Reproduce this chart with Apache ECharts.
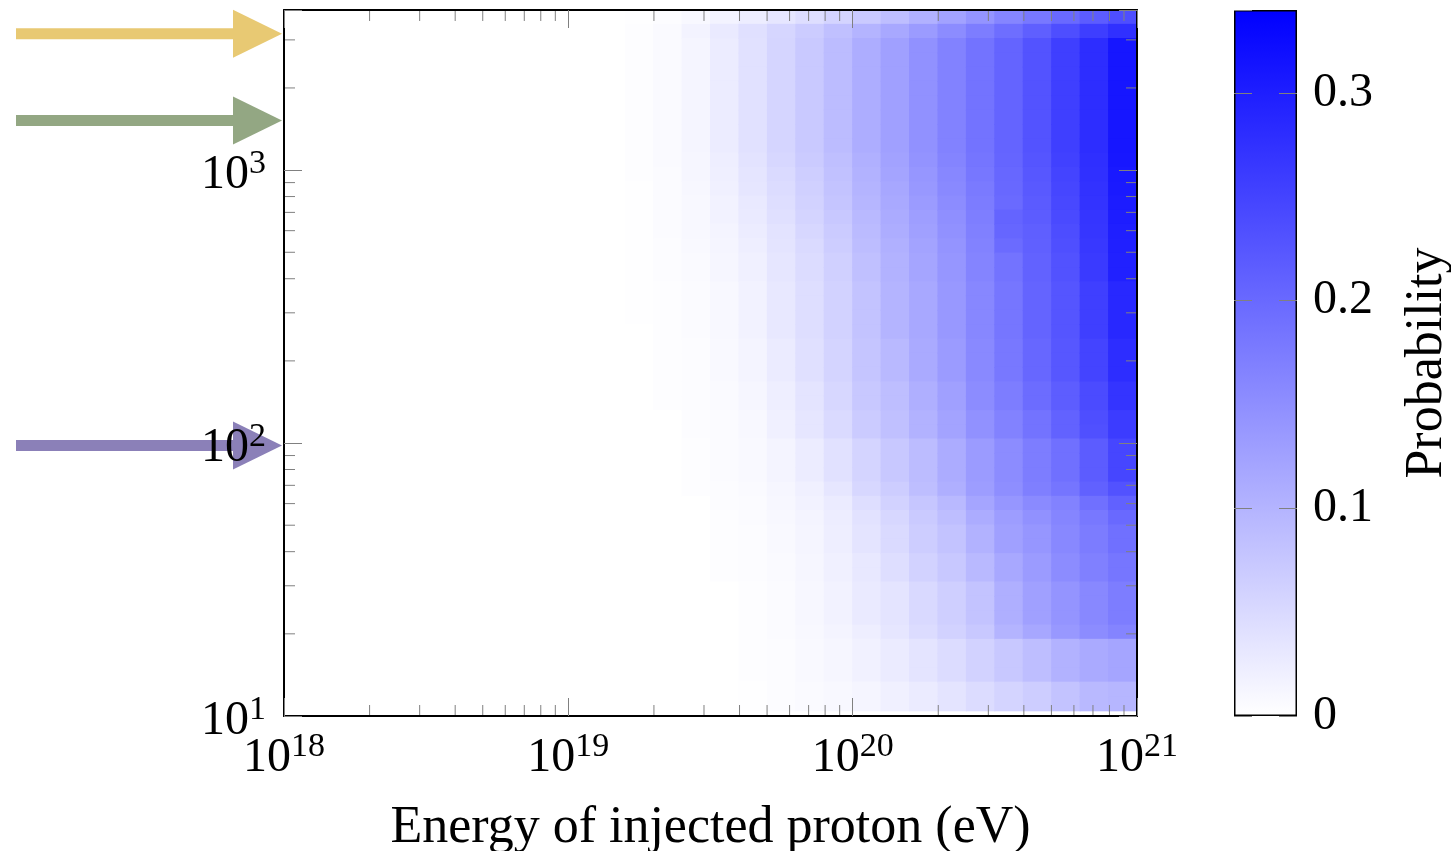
<!DOCTYPE html>
<html>
<head>
<meta charset="utf-8">
<script src="https://cdn.jsdelivr.net/npm/echarts@6/dist/echarts.min.js"></script>
<style>
  html, body { margin: 0; padding: 0; background: #fff; }
  #chart { width: 1451px; height: 851px; }
</style>
</head>
<body>
<div id="chart"></div>
<script>
// column edges, log10(E / eV), 0.1 decade per column
const energyEdges = [19.2, 19.3, 19.4, 19.5, 19.6, 19.7, 19.8, 19.9, 20.0, 20.1,
  20.2, 20.3, 20.4, 20.5, 20.6, 20.7, 20.8, 20.9, 21.0]

// row edges, log10 of the vertical quantity, top row first
const rowEdges = [3.587, 3.534, 3.482, 3.429, 3.377, 3.325, 3.272, 3.220, 3.167, 3.115,
  3.063, 3.010, 2.958, 2.905, 2.853, 2.801, 2.748, 2.696, 2.643, 2.591,
  2.539, 2.486, 2.434, 2.381, 2.329, 2.277, 2.224, 2.172, 2.119, 2.067,
  2.015, 1.962, 1.910, 1.857, 1.805, 1.753, 1.700, 1.648, 1.595, 1.543,
  1.491, 1.438, 1.386, 1.333, 1.281, 1.229, 1.176, 1.124, 1.071, 1.019]

// probability per column (top row first); columns below 10^19.2 are empty
const p192 = [0.001, 0.003, 0.003, 0.003, 0.003, 0.003, 0.003, 0.003, 0.003, 0.003,
  0.003, 0.003, 0.002, 0.002, 0.002, 0.002, 0.001, 0.001, 0.001, 0.001,
  0.001, 0.001, 0, 0, 0, 0, 0, 0, 0, 0,
  0, 0, 0, 0, 0, 0, 0, 0, 0, 0,
  0, 0, 0, 0, 0, 0, 0, 0, 0]
const p193 = [0.004, 0.007, 0.007, 0.007, 0.007, 0.007, 0.007, 0.007, 0.007, 0.007,
  0.007, 0.006, 0.006, 0.005, 0.005, 0.005, 0.004, 0.004, 0.004, 0.003,
  0.003, 0.003, 0.003, 0.003, 0.003, 0.003, 0.003, 0.003, 0, 0,
  0, 0, 0, 0, 0, 0, 0, 0, 0, 0,
  0, 0, 0, 0, 0, 0, 0, 0, 0]
const p194 = [0.009, 0.016, 0.013, 0.013, 0.013, 0.013, 0.013, 0.013, 0.013, 0.013,
  0.012, 0.012, 0.011, 0.010, 0.009, 0.009, 0.008, 0.007, 0.007, 0.005,
  0.005, 0.005, 0.005, 0.004, 0.004, 0.004, 0.004, 0.004, 0.004, 0.004,
  0.003, 0.003, 0.003, 0.003, 0, 0, 0, 0, 0, 0,
  0, 0, 0, 0, 0, 0, 0, 0, 0]
const p195 = [0.016, 0.028, 0.025, 0.025, 0.025, 0.025, 0.025, 0.025, 0.025, 0.025,
  0.023, 0.022, 0.020, 0.018, 0.017, 0.015, 0.014, 0.012, 0.012, 0.009,
  0.009, 0.009, 0.009, 0.008, 0.008, 0.008, 0.007, 0.007, 0.005, 0.005,
  0.005, 0.005, 0.005, 0.004, 0.004, 0.003, 0.003, 0.003, 0.003, 0.003,
  0, 0, 0, 0, 0, 0, 0, 0, 0]
const p196 = [0.024, 0.041, 0.040, 0.040, 0.040, 0.040, 0.040, 0.040, 0.040, 0.040,
  0.038, 0.035, 0.033, 0.030, 0.028, 0.025, 0.023, 0.020, 0.020, 0.017,
  0.017, 0.017, 0.017, 0.015, 0.015, 0.015, 0.012, 0.012, 0.009, 0.009,
  0.008, 0.008, 0.008, 0.007, 0.005, 0.005, 0.004, 0.004, 0.004, 0.004,
  0.003, 0.003, 0.003, 0.003, 0.003, 0.003, 0.003, 0.001, 0.001]
const p197 = [0.033, 0.055, 0.056, 0.056, 0.056, 0.056, 0.056, 0.056, 0.056, 0.056,
  0.053, 0.050, 0.047, 0.044, 0.041, 0.038, 0.036, 0.033, 0.033, 0.031,
  0.031, 0.031, 0.031, 0.027, 0.027, 0.027, 0.023, 0.023, 0.020, 0.020,
  0.015, 0.015, 0.015, 0.012, 0.011, 0.009, 0.008, 0.008, 0.007, 0.007,
  0.005, 0.005, 0.005, 0.005, 0.004, 0.004, 0.004, 0.004, 0.004]
const p198 = [0.044, 0.068, 0.072, 0.072, 0.072, 0.072, 0.072, 0.072, 0.072, 0.072,
  0.069, 0.066, 0.063, 0.060, 0.057, 0.053, 0.050, 0.047, 0.047, 0.044,
  0.044, 0.044, 0.044, 0.041, 0.041, 0.041, 0.036, 0.036, 0.033, 0.033,
  0.025, 0.025, 0.025, 0.020, 0.017, 0.015, 0.013, 0.013, 0.012, 0.012,
  0.011, 0.011, 0.011, 0.009, 0.008, 0.008, 0.008, 0.007, 0.007]
const p199 = [0.057, 0.084, 0.089, 0.089, 0.089, 0.089, 0.089, 0.089, 0.089, 0.089,
  0.086, 0.083, 0.080, 0.077, 0.073, 0.070, 0.067, 0.063, 0.063, 0.060,
  0.060, 0.060, 0.060, 0.057, 0.057, 0.057, 0.053, 0.053, 0.049, 0.049,
  0.040, 0.040, 0.040, 0.033, 0.027, 0.024, 0.023, 0.023, 0.020, 0.020,
  0.017, 0.017, 0.017, 0.015, 0.012, 0.012, 0.012, 0.009, 0.009]
const p200 = [0.071, 0.100, 0.109, 0.109, 0.109, 0.109, 0.109, 0.109, 0.109, 0.109,
  0.106, 0.103, 0.100, 0.097, 0.094, 0.091, 0.088, 0.084, 0.084, 0.080,
  0.080, 0.080, 0.080, 0.077, 0.077, 0.077, 0.073, 0.073, 0.069, 0.069,
  0.057, 0.057, 0.057, 0.053, 0.044, 0.039, 0.036, 0.036, 0.031, 0.031,
  0.028, 0.028, 0.028, 0.023, 0.019, 0.019, 0.019, 0.013, 0.013]
const p201 = [0.087, 0.116, 0.127, 0.127, 0.127, 0.127, 0.127, 0.127, 0.127, 0.127,
  0.124, 0.121, 0.118, 0.115, 0.112, 0.109, 0.106, 0.103, 0.103, 0.100,
  0.100, 0.100, 0.100, 0.093, 0.093, 0.093, 0.087, 0.087, 0.084, 0.084,
  0.073, 0.073, 0.073, 0.067, 0.060, 0.053, 0.049, 0.049, 0.044, 0.044,
  0.036, 0.036, 0.036, 0.033, 0.027, 0.027, 0.027, 0.020, 0.020]
const p202 = [0.104, 0.133, 0.147, 0.147, 0.147, 0.147, 0.147, 0.147, 0.147, 0.147,
  0.144, 0.140, 0.137, 0.133, 0.130, 0.127, 0.123, 0.120, 0.120, 0.116,
  0.116, 0.116, 0.116, 0.113, 0.113, 0.113, 0.107, 0.107, 0.103, 0.103,
  0.089, 0.089, 0.089, 0.087, 0.076, 0.071, 0.067, 0.067, 0.060, 0.060,
  0.051, 0.051, 0.051, 0.047, 0.036, 0.036, 0.036, 0.027, 0.027]
const p203 = [0.124, 0.153, 0.167, 0.167, 0.167, 0.167, 0.167, 0.167, 0.167, 0.167,
  0.164, 0.160, 0.157, 0.153, 0.150, 0.147, 0.143, 0.140, 0.140, 0.137,
  0.137, 0.137, 0.137, 0.133, 0.133, 0.133, 0.127, 0.127, 0.123, 0.123,
  0.111, 0.111, 0.111, 0.107, 0.093, 0.087, 0.080, 0.080, 0.073, 0.073,
  0.064, 0.064, 0.064, 0.060, 0.047, 0.047, 0.047, 0.036, 0.036]
const p204 = [0.143, 0.173, 0.187, 0.187, 0.187, 0.187, 0.187, 0.187, 0.187, 0.187,
  0.184, 0.181, 0.178, 0.175, 0.172, 0.170, 0.167, 0.164, 0.164, 0.160,
  0.160, 0.160, 0.160, 0.157, 0.157, 0.157, 0.153, 0.153, 0.147, 0.147,
  0.133, 0.133, 0.133, 0.131, 0.120, 0.111, 0.103, 0.103, 0.093, 0.093,
  0.080, 0.080, 0.080, 0.073, 0.060, 0.060, 0.060, 0.047, 0.047]
const p205 = [0.163, 0.193, 0.207, 0.207, 0.207, 0.207, 0.207, 0.207, 0.207, 0.207,
  0.205, 0.203, 0.201, 0.199, 0.207, 0.204, 0.197, 0.187, 0.187, 0.183,
  0.183, 0.183, 0.183, 0.180, 0.180, 0.180, 0.173, 0.173, 0.167, 0.167,
  0.153, 0.153, 0.153, 0.151, 0.140, 0.131, 0.127, 0.127, 0.116, 0.116,
  0.107, 0.107, 0.107, 0.100, 0.073, 0.073, 0.073, 0.057, 0.057]
const p206 = [0.180, 0.213, 0.229, 0.229, 0.229, 0.229, 0.229, 0.229, 0.229, 0.229,
  0.227, 0.224, 0.222, 0.219, 0.217, 0.214, 0.212, 0.209, 0.209, 0.207,
  0.207, 0.207, 0.207, 0.203, 0.203, 0.203, 0.196, 0.196, 0.187, 0.187,
  0.173, 0.173, 0.173, 0.171, 0.156, 0.147, 0.140, 0.140, 0.133, 0.133,
  0.127, 0.127, 0.127, 0.117, 0.087, 0.087, 0.087, 0.067, 0.067]
const p207 = [0.200, 0.236, 0.256, 0.256, 0.256, 0.256, 0.256, 0.256, 0.256, 0.256,
  0.253, 0.250, 0.247, 0.244, 0.241, 0.238, 0.235, 0.231, 0.231, 0.227,
  0.227, 0.227, 0.227, 0.224, 0.224, 0.224, 0.216, 0.216, 0.209, 0.209,
  0.191, 0.191, 0.191, 0.184, 0.167, 0.163, 0.159, 0.159, 0.153, 0.153,
  0.143, 0.143, 0.143, 0.137, 0.103, 0.103, 0.103, 0.080, 0.080]
const p208 = [0.217, 0.257, 0.280, 0.280, 0.280, 0.280, 0.280, 0.280, 0.280, 0.280,
  0.278, 0.276, 0.274, 0.272, 0.270, 0.268, 0.266, 0.263, 0.263, 0.256,
  0.256, 0.256, 0.256, 0.249, 0.249, 0.249, 0.240, 0.240, 0.236, 0.233,
  0.217, 0.217, 0.217, 0.211, 0.191, 0.180, 0.175, 0.175, 0.169, 0.169,
  0.159, 0.159, 0.159, 0.153, 0.113, 0.113, 0.113, 0.093, 0.093]
const p209 = [0.236, 0.276, 0.311, 0.311, 0.311, 0.311, 0.311, 0.311, 0.311, 0.311,
  0.309, 0.307, 0.305, 0.303, 0.301, 0.299, 0.298, 0.296, 0.296, 0.287,
  0.287, 0.287, 0.287, 0.280, 0.280, 0.280, 0.271, 0.271, 0.260, 0.260,
  0.247, 0.247, 0.247, 0.231, 0.211, 0.200, 0.191, 0.191, 0.183, 0.183,
  0.173, 0.173, 0.173, 0.164, 0.120, 0.120, 0.120, 0.097, 0.097]
const columns = [p192, p193, p194, p195, p196, p197, p198, p199, p200,
  p201, p202, p203, p204, p205, p206, p207, p208, p209]

// minor tick values for the log axes
const xMinorTicks = [2e18, 3e18, 4e18, 5e18, 6e18, 7e18, 8e18, 9e18,
  2e19, 3e19, 4e19, 5e19, 6e19, 7e19, 8e19, 9e19,
  2e20, 3e20, 4e20, 5e20, 6e20, 7e20, 8e20, 9e20]
const yMinorTicks = [20, 30, 40, 50, 60, 70, 80, 90,
  200, 300, 400, 500, 600, 700, 800, 900, 2000, 3000]

// arrows on the left edge
const arrowLevels = [3160, 1520, 98]
const arrowColors = ['#e8c973', '#93a783', '#8b80b8']

const xMin = 1e18
const xMax = 1e21
const yMin = 10
const yMax = 3860
const probMax = 0.34

const FONT = '"Liberation Serif", "DejaVu Serif", serif'
const TICK = '#808080'

const cells = []
columns.forEach((col, c) => {
  col.forEach((v, r) => {
    cells.push([
      Math.pow(10, energyEdges[c]), Math.pow(10, energyEdges[c + 1]),
      Math.pow(10, rowEdges[r + 1]), Math.pow(10, rowEdges[r]), v
    ])
  })
})

function powLabel (v) {
  const e = Math.log10(v)
  const r = Math.round(e)
  if (Math.abs(e - r) > 1e-6) return ''
  return '{b|10}{s|' + r + '}'
}

const powRich = {
  b: { fontFamily: FONT, fontSize: 48, lineHeight: 56, color: '#000' },
  s: { fontFamily: FONT, fontSize: 34, lineHeight: 34, verticalAlign: 'top', color: '#000' }
}

function logAxis (pos, showLabel, extra) {
  return Object.assign({
    type: 'log',
    position: pos,
    z: 10,
    axisLine: { show: true, onZero: false, lineStyle: { color: '#000', width: 2 } },
    axisTick: { show: true, inside: true, length: 18, lineStyle: { color: TICK, width: 1 } },
    splitLine: { show: false },
    axisLabel: {
      show: showLabel,
      formatter: powLabel,
      rich: powRich
    }
  }, extra)
}

const chart = echarts.init(document.getElementById('chart'))

const option = {
  animation: false,
  backgroundColor: '#fff',
  grid: [
    { left: 284, right: 314, top: 10, bottom: 135, outerBoundsMode: 'none' },
    { left: 1234, width: 63, top: 10, height: 706, outerBoundsMode: 'none' }
  ],
  xAxis: [
    logAxis('bottom', true, {
      gridIndex: 0,
      min: xMin,
      max: xMax,
      name: 'Energy of injected proton (eV)',
      nameLocation: 'middle',
      nameGap: 86,
      nameTextStyle: { fontFamily: FONT, fontSize: 52, color: '#000' },
      axisLabel: { show: true, formatter: powLabel, rich: powRich, margin: 14 }
    }),
    logAxis('top', false, { gridIndex: 0, min: xMin, max: xMax }),
    { type: 'category', gridIndex: 1, data: ['p'], show: false }
  ],
  yAxis: [
    logAxis('left', true, {
      gridIndex: 0,
      min: yMin,
      max: yMax,
      axisLabel: { show: true, formatter: powLabel, rich: powRich, margin: 18, padding: [10, 0, 0, 0] }
    }),
    logAxis('right', false, { gridIndex: 0, min: yMin, max: yMax }),
    {
      type: 'value',
      gridIndex: 1,
      position: 'right',
      min: 0,
      max: probMax,
      interval: 0.1,
      z: 10,
      axisLine: { show: false },
      axisTick: { show: true, inside: true, length: 18, lineStyle: { color: TICK, width: 1 } },
      splitLine: { show: false },
      axisLabel: {
        margin: 16,
        fontFamily: FONT,
        fontSize: 48,
        color: '#000',
        showMaxLabel: false,
        formatter: function (v) {
          return Math.abs(v * 10 - Math.round(v * 10)) < 1e-6 ? String(Math.round(v * 10) / 10) : ''
        }
      },
      name: 'Probability',
      nameLocation: 'middle',
      nameRotate: 90,
      nameGap: 104,
      nameTextStyle: { fontFamily: FONT, fontSize: 52, color: '#000' }
    },
    {
      type: 'value',
      gridIndex: 1,
      position: 'left',
      min: 0,
      max: probMax,
      interval: 0.1,
      z: 10,
      axisLine: { show: false },
      axisTick: { show: true, inside: true, length: 18, lineStyle: { color: TICK, width: 1 } },
      axisLabel: { show: false },
      splitLine: { show: false }
    }
  ],
  visualMap: {
    type: 'continuous',
    show: false,
    min: 0,
    max: probMax,
    dimension: 4,
    seriesIndex: 0,
    inRange: { color: ['#ffffff', '#0000ff'] }
  },
  series: [
    {
      name: 'probability',
      type: 'custom',
      xAxisIndex: 0,
      yAxisIndex: 0,
      silent: true,
      data: cells,
      encode: { x: [0, 1], y: [2, 3] },
      renderItem: function (params, api) {
        const a = api.coord([api.value(0), api.value(3)])
        const b = api.coord([api.value(1), api.value(2)])
        // pad half a pixel so neighbouring cells meet without seams
        return {
          type: 'rect',
          shape: { x: a[0] - 0.5, y: a[1] - 0.5, width: b[0] - a[0] + 1, height: b[1] - a[1] + 1 },
          style: { fill: api.visual('color') }
        }
      }
    },
    {
      name: 'arrows',
      type: 'custom',
      xAxisIndex: 0,
      yAxisIndex: 0,
      z: 3,
      clip: false,
      silent: true,
      data: arrowLevels.map((d, i) => [xMin, d, i]),
      encode: { x: 0, y: 1 },
      renderItem: function (params, api) {
        const tip = api.coord([api.value(0), api.value(1)])
        const tx = tip[0] - 2
        const ty = tip[1]
        const color = arrowColors[api.value(2)]
        return {
          type: 'group',
          children: [
            { type: 'rect', shape: { x: tx - 266, y: ty - 5.5, width: 222, height: 11 }, style: { fill: color } },
            { type: 'polygon', shape: { points: [[tx - 49, ty - 24], [tx, ty], [tx - 49, ty + 24]] }, style: { fill: color } }
          ]
        }
      }
    },
    {
      name: 'xMinor',
      type: 'custom',
      xAxisIndex: 0,
      yAxisIndex: 0,
      z: 5,
      silent: true,
      data: xMinorTicks.map(v => [v, yMin]),
      encode: { x: 0, y: 1 },
      renderItem: function (params, api) {
        const b = api.coord([api.value(0), yMin])
        const t = api.coord([api.value(0), yMax])
        return {
          type: 'group',
          children: [
            { type: 'line', shape: { x1: b[0], y1: b[1], x2: b[0], y2: b[1] - 11 }, style: { stroke: TICK, lineWidth: 1 } },
            { type: 'line', shape: { x1: t[0], y1: t[1], x2: t[0], y2: t[1] + 11 }, style: { stroke: TICK, lineWidth: 1 } }
          ]
        }
      }
    },
    {
      name: 'yMinor',
      type: 'custom',
      xAxisIndex: 0,
      yAxisIndex: 0,
      z: 5,
      silent: true,
      data: yMinorTicks.map(v => [xMin, v]),
      encode: { x: 0, y: 1 },
      renderItem: function (params, api) {
        const l = api.coord([xMin, api.value(1)])
        const r = api.coord([xMax, api.value(1)])
        return {
          type: 'group',
          children: [
            { type: 'line', shape: { x1: l[0], y1: l[1], x2: l[0] + 11, y2: l[1] }, style: { stroke: TICK, lineWidth: 1 } },
            { type: 'line', shape: { x1: r[0], y1: r[1], x2: r[0] - 11, y2: r[1] }, style: { stroke: TICK, lineWidth: 1 } }
          ]
        }
      }
    },
    {
      name: 'colorbar',
      type: 'bar',
      xAxisIndex: 2,
      yAxisIndex: 2,
      silent: true,
      barWidth: '100%',
      data: [probMax],
      itemStyle: {
        color: new echarts.graphic.LinearGradient(0, 0, 0, 1, [
          { offset: 0, color: '#0000ff' },
          { offset: 1, color: '#ffffff' }
        ]),
        borderColor: '#000',
        borderWidth: 1.5
      }
    }
  ]
}

chart.setOption(option)
</script>
</body>
</html>
